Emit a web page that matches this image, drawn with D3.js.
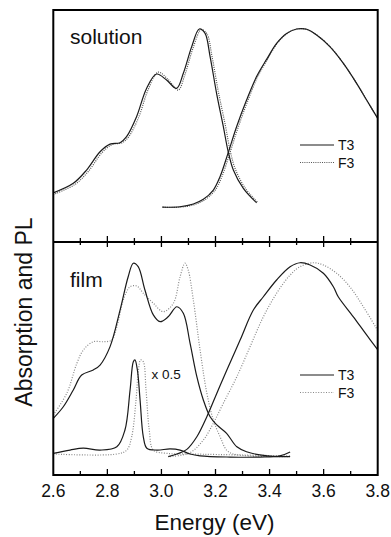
<!DOCTYPE html>
<html><head><meta charset="utf-8">
<script src="https://cdn.jsdelivr.net/npm/d3@7"></script>
<style>body{margin:0;background:#fff}svg{display:block}text{font-family:Arial,"Liberation Sans",sans-serif}</style>
</head><body>
<script>
// ---- Data (Energy eV, intensity in arbitrary units 0..1 per panel) ----
const xTicks = [2.6, 2.8, 3.0, 3.2, 3.4, 3.6, 3.8];
const panelLabels = ["solution", "film"];
const legendLabels = ["T3", "F3"];

const solAbsE_T3 = [2.600,2.674,2.723,2.773,2.810,2.847,2.871,2.908,2.945,2.982,3.019,3.056,3.081,3.112,3.140,3.161,3.180,3.204,3.229,3.247,3.266,3.303,3.352];
const solAbsV_T3 = [0.212,0.253,0.310,0.389,0.422,0.428,0.454,0.540,0.662,0.724,0.698,0.662,0.727,0.842,0.918,0.900,0.799,0.641,0.497,0.389,0.310,0.231,0.169];
const solAbsE_F3 = [2.600,2.680,2.730,2.780,2.818,2.855,2.878,2.915,2.952,2.988,3.025,3.062,3.087,3.118,3.147,3.168,3.187,3.211,3.236,3.254,3.273,3.310,3.355];
const solAbsV_F3 = [0.205,0.248,0.305,0.385,0.420,0.428,0.452,0.535,0.660,0.732,0.700,0.655,0.722,0.840,0.915,0.898,0.800,0.645,0.505,0.395,0.315,0.232,0.172];
const solPLE_T3 = [3.003,3.068,3.118,3.155,3.192,3.217,3.247,3.278,3.315,3.352,3.389,3.426,3.463,3.500,3.537,3.574,3.623,3.673,3.722,3.759,3.800];
const solPLV_T3 = [0.150,0.152,0.164,0.184,0.224,0.282,0.385,0.497,0.612,0.713,0.787,0.856,0.899,0.918,0.917,0.892,0.842,0.770,0.684,0.612,0.533];
const solPLE_F3 = [3.005,3.070,3.124,3.161,3.198,3.223,3.253,3.284,3.320,3.356,3.392,3.428,3.465,3.502,3.538,3.575,3.624,3.673,3.722,3.759,3.800];
const solPLV_F3 = [0.150,0.150,0.162,0.182,0.222,0.280,0.383,0.495,0.610,0.712,0.787,0.856,0.899,0.918,0.917,0.892,0.842,0.770,0.684,0.612,0.533];

const filmAbsE_T3 = [2.600,2.637,2.674,2.705,2.748,2.773,2.810,2.847,2.877,2.896,2.914,2.939,2.970,2.995,3.025,3.057,3.081,3.106,3.131,3.155,3.180,3.205,3.241,3.279,3.315,3.364,3.426,3.476];
const filmAbsV_T3 = [0.243,0.293,0.365,0.429,0.451,0.472,0.551,0.708,0.851,0.909,0.894,0.794,0.687,0.658,0.679,0.722,0.694,0.565,0.422,0.322,0.250,0.215,0.179,0.121,0.100,0.086,0.079,0.079];
const filmAbsE_F3 = [2.600,2.650,2.687,2.711,2.748,2.785,2.816,2.835,2.859,2.884,2.909,2.933,2.970,3.007,3.044,3.069,3.087,3.099,3.118,3.143,3.168,3.192,3.217,3.241,3.266,3.328,3.476];
const filmAbsV_F3 = [0.258,0.351,0.479,0.536,0.572,0.572,0.579,0.636,0.751,0.808,0.811,0.780,0.737,0.701,0.737,0.851,0.909,0.880,0.751,0.536,0.351,0.236,0.164,0.107,0.090,0.082,0.079];
const filmNarE_T3 = [2.600,2.662,2.711,2.773,2.835,2.865,2.884,2.896,2.902,2.911,2.921,2.933,2.946,2.983,3.032,3.069,3.106,3.143,3.254,3.364,3.438,3.476];
const filmNarV_T3 = [0.093,0.107,0.115,0.107,0.121,0.193,0.365,0.486,0.494,0.451,0.322,0.164,0.115,0.107,0.112,0.107,0.090,0.082,0.077,0.077,0.082,0.099];
const filmNarE_F3 = [2.600,2.835,2.872,2.890,2.906,2.915,2.923,2.933,2.943,2.955,2.970,3.020,3.118,3.476];
const filmNarV_F3 = [0.090,0.090,0.107,0.164,0.322,0.451,0.494,0.486,0.365,0.193,0.107,0.093,0.090,0.082];
const filmPLE_T3 = [3.025,3.057,3.094,3.131,3.168,3.205,3.242,3.291,3.340,3.377,3.426,3.476,3.513,3.550,3.599,3.636,3.654,3.710,3.759,3.799];
const filmPLV_T3 = [0.079,0.090,0.110,0.164,0.250,0.351,0.451,0.579,0.708,0.765,0.837,0.894,0.911,0.901,0.866,0.808,0.765,0.679,0.601,0.539];
const filmPLE_F3 = [3.032,3.106,3.155,3.192,3.229,3.279,3.328,3.377,3.426,3.476,3.513,3.562,3.599,3.648,3.697,3.747,3.799];
const filmPLV_F3 = [0.079,0.096,0.150,0.222,0.308,0.422,0.551,0.679,0.780,0.858,0.894,0.911,0.901,0.866,0.808,0.722,0.622];

// ---- Layout ----
const W = 391, H = 537;
const L = 53.3, R = 377.7, T = 10, MID = 242, B = 475;

const svg = d3.select("body").append("svg").attr("width", W).attr("height", H);
const x = d3.scaleLinear().domain([2.6, 3.8]).range([L, R]);
const yTop = d3.scaleLinear().domain([0, 1]).range([MID, T]);
const yBot = d3.scaleLinear().domain([0, 1]).range([B, MID]);

const zip = (a, b) => a.map((e, i) => [e, b[i]]);
const solidStyle = {stroke: "#1a1a1a", width: 1.2, dash: null};
const dotTop = {stroke: "#555", width: 1.2, dash: "1,1.2"};
const dotBot = {stroke: "#888", width: 1.2, dash: "1,1.6"};

function drawLine(E, V, y, st) {
  const line = d3.line().x(d => x(d[0])).y(d => y(d[1])).curve(d3.curveCatmullRom.alpha(0.5));
  svg.append("path").datum(zip(E, V)).attr("d", line)
    .attr("fill", "none").attr("stroke", st.stroke).attr("stroke-width", st.width)
    .attr("stroke-dasharray", st.dash);
}

// top panel
drawLine(solAbsE_F3, solAbsV_F3, yTop, dotTop);
drawLine(solPLE_F3, solPLV_F3, yTop, dotTop);
drawLine(solAbsE_T3, solAbsV_T3, yTop, solidStyle);
drawLine(solPLE_T3, solPLV_T3, yTop, solidStyle);
// bottom panel
drawLine(filmAbsE_F3, filmAbsV_F3, yBot, dotBot);
drawLine(filmNarE_F3, filmNarV_F3, yBot, dotBot);
drawLine(filmPLE_F3, filmPLV_F3, yBot, dotBot);
drawLine(filmAbsE_T3, filmAbsV_T3, yBot, solidStyle);
drawLine(filmNarE_T3, filmNarV_T3, yBot, solidStyle);
drawLine(filmPLE_T3, filmPLV_T3, yBot, solidStyle);

// axes: ticks every 0.1, major at labelled ticks
const allTicks = d3.range(2.6, 3.8001, 0.1).map(v => +v.toFixed(1));
const isMajor = v => xTicks.some(t => Math.abs(t - v) < 1e-6);
// bottom axis (ticks inward)
const axB = d3.axisBottom(x).tickValues(allTicks).tickSize(0).tickFormat("");
svg.append("g").attr("transform", `translate(0,${B})`).call(axB).select(".domain").remove();
const tickG = svg.append("g").attr("stroke", "#000").attr("stroke-width", 1.3);
allTicks.forEach(v => {
  if (v <= 2.6 || v >= 3.8) return;
  const len = isMajor(v) ? 6 : 4;
  const xx = x(v);
  tickG.append("line").attr("x1", xx).attr("x2", xx).attr("y1", B).attr("y2", B - len);
  tickG.append("line").attr("x1", xx).attr("x2", xx).attr("y1", MID).attr("y2", MID - len);
  tickG.append("line").attr("x1", xx).attr("x2", xx).attr("y1", MID).attr("y2", MID + (isMajor(v) ? 5 : 3));
});
// tick labels
svg.append("g").selectAll("text").data(xTicks).join("text")
  .attr("x", d => x(d)).attr("y", 497).attr("text-anchor", "middle")
  .attr("font-size", 17.5).attr("fill", "#111").text(d => d.toFixed(1));

// frame and divider
svg.append("rect").attr("x", L).attr("y", T).attr("width", R - L).attr("height", B - T)
  .attr("fill", "none").attr("stroke", "#000").attr("stroke-width", 2);
svg.append("line").attr("x1", L).attr("x2", R).attr("y1", MID).attr("y2", MID)
  .attr("stroke", "#000").attr("stroke-width", 1.8);

// axis titles
svg.append("text").attr("x", (L + R) / 2 - 1).attr("y", 530).attr("text-anchor", "middle")
  .attr("font-size", 22.5).attr("fill", "#111").text("Energy (eV)");
svg.append("text").attr("transform", "translate(32,312) rotate(-90)").attr("text-anchor", "middle")
  .attr("font-size", 23).attr("fill", "#111").text("Absorption and PL");

// panel labels
svg.append("text").attr("x", 70).attr("y", 44).attr("font-size", 21).attr("fill", "#111").text(panelLabels[0]);
svg.append("text").attr("x", 70).attr("y", 286.5).attr("font-size", 21).attr("fill", "#111").text(panelLabels[1]);
svg.append("text").attr("x", 151.5).attr("y", 379).attr("font-size", 13.5).attr("fill", "#111").text("x 0.5");

// legends
function legend(y0, dot) {
  const sty = [solidStyle, dot];
  legendLabels.forEach((lab, i) => {
    const yy = y0 + i * 17.5;
    svg.append("line").attr("x1", 300).attr("x2", 334).attr("y1", yy).attr("y2", yy)
      .attr("stroke", sty[i].stroke).attr("stroke-width", sty[i].width).attr("stroke-dasharray", sty[i].dash);
    svg.append("text").attr("x", 338).attr("y", yy + 5).attr("font-size", 14).attr("fill", "#111").text(lab);
  });
}
legend(145, dotTop);
legend(375, dotBot);
</script>
</body></html>
